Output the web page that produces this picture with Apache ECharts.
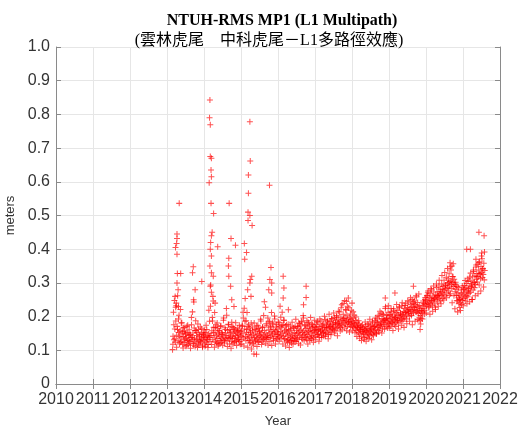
<!DOCTYPE html>
<html>
<head>
<meta charset="utf-8">
<script src="https://cdn.jsdelivr.net/npm/echarts@6/dist/echarts.min.js"></script>
<style>
  html, body { margin: 0; padding: 0; background: #fff; }
  #chart { width: 520px; height: 430px; }
</style>
</head>
<body>
<div id="chart"></div>
<script>
// MP1 RMS samples.
// main set: one value every SAMPLE_STEP years; extra set: one every EXTRA_STEP years
const SAMPLE_STEP = 0.0125;
const EXTRA_STEP = 0.025;

const mp2013 = [ // starts 2013.15
  0.102, 0.142, 0.213, 0.131, 0.248, 0.163, 0.124, 0.187,
  0.232, 0.145, 0.171, 0.262, 0.128, 0.153, 0.204, 0.119,
  0.158, 0.221, 0.139, 0.127, 0.182, 0.149, 0.118, 0.166,
  0.141, 0.123, 0.157, 0.134, 0.148, 0.112, 0.137, 0.171,
  0.129, 0.152, 0.117, 0.143, 0.161, 0.126, 0.121, 0.147,
  0.138, 0.176, 0.132, 0.214, 0.151, 0.115, 0.243, 0.136,
  0.127, 0.159, 0.188, 0.122, 0.144, 0.153, 0.108, 0.131,
  0.162, 0.119, 0.141, 0.128, 0.169, 0.124, 0.149, 0.137,
  0.133, 0.113, 0.152, 0.139
];
const mp2014 = [
  0.128, 0.145, 0.119, 0.153, 0.137, 0.124, 0.162, 0.141,
  0.133, 0.117, 0.149, 0.138, 0.186, 0.126, 0.231, 0.144,
  0.272, 0.158, 0.197, 0.131, 0.246, 0.168, 0.139, 0.212,
  0.152, 0.127, 0.176, 0.143, 0.121, 0.164, 0.135, 0.148,
  0.118, 0.157, 0.142, 0.129, 0.171, 0.136, 0.124, 0.153,
  0.146, 0.131, 0.189, 0.139, 0.122, 0.167, 0.151, 0.134,
  0.143, 0.204, 0.128, 0.159, 0.137, 0.176, 0.145, 0.119,
  0.162, 0.138, 0.154, 0.127, 0.183, 0.141, 0.135, 0.168,
  0.149, 0.123, 0.157, 0.136, 0.144, 0.161, 0.128, 0.152,
  0.139, 0.166, 0.131, 0.147, 0.158, 0.126, 0.143, 0.155
];
const mp2015 = [
  0.142, 0.158, 0.131, 0.174, 0.149, 0.196, 0.137, 0.225,
  0.163, 0.254, 0.141, 0.188, 0.153, 0.212, 0.136, 0.171,
  0.147, 0.129, 0.166, 0.139, 0.152, 0.124, 0.181, 0.143,
  0.133, 0.158, 0.121, 0.146, 0.089, 0.137, 0.162, 0.128,
  0.151, 0.139, 0.172, 0.134, 0.148, 0.125, 0.165, 0.142,
  0.156, 0.131, 0.144, 0.187, 0.138, 0.153, 0.127, 0.169,
  0.146, 0.203, 0.135, 0.159, 0.141, 0.228, 0.149, 0.132,
  0.174, 0.145, 0.196, 0.137, 0.161, 0.152, 0.184, 0.139,
  0.167, 0.143, 0.212, 0.156, 0.148, 0.178, 0.134, 0.162,
  0.151, 0.193, 0.141, 0.158, 0.169, 0.136, 0.154, 0.147
];
const mp2016 = [
  0.163, 0.148, 0.182, 0.139, 0.171, 0.156, 0.198, 0.144,
  0.167, 0.213, 0.152, 0.176, 0.141, 0.189, 0.158, 0.135,
  0.172, 0.149, 0.161, 0.128, 0.154, 0.143, 0.177, 0.132,
  0.146, 0.125, 0.158, 0.138, 0.164, 0.121, 0.149, 0.135,
  0.142, 0.167, 0.129, 0.153, 0.137, 0.171, 0.144, 0.126,
  0.158, 0.149, 0.134, 0.166, 0.152, 0.181, 0.139, 0.157,
  0.146, 0.172, 0.161, 0.137, 0.184, 0.153, 0.143, 0.196,
  0.158, 0.148, 0.176, 0.139, 0.165, 0.152, 0.131, 0.169,
  0.147, 0.183, 0.156, 0.141, 0.172, 0.159, 0.136, 0.163,
  0.151, 0.178, 0.144, 0.167, 0.155, 0.138, 0.171, 0.158
];
const mp2017 = [
  0.152, 0.168, 0.141, 0.177, 0.159, 0.146, 0.183, 0.162,
  0.149, 0.171, 0.138, 0.164, 0.156, 0.187, 0.145, 0.172,
  0.161, 0.153, 0.179, 0.142, 0.168, 0.157, 0.191, 0.149,
  0.166, 0.175, 0.152, 0.184, 0.163, 0.147, 0.178, 0.169,
  0.158, 0.186, 0.171, 0.154, 0.193, 0.166, 0.177, 0.161,
  0.182, 0.169, 0.197, 0.158, 0.176, 0.188, 0.164, 0.203,
  0.179, 0.167, 0.192, 0.181, 0.172, 0.214, 0.186, 0.168,
  0.198, 0.177, 0.235, 0.189, 0.173, 0.207, 0.194, 0.182,
  0.248, 0.196, 0.178, 0.219, 0.187, 0.204, 0.171, 0.193,
  0.183, 0.226, 0.176, 0.198, 0.185, 0.169, 0.192, 0.179
];
const mp2018 = [
  0.187, 0.172, 0.195, 0.168, 0.181, 0.204, 0.176, 0.163,
  0.189, 0.171, 0.158, 0.183, 0.166, 0.174, 0.152, 0.179,
  0.161, 0.148, 0.169, 0.157, 0.173, 0.142, 0.164, 0.155,
  0.168, 0.149, 0.133, 0.162, 0.154, 0.171, 0.146, 0.158,
  0.165, 0.139, 0.152, 0.177, 0.148, 0.161, 0.143, 0.169,
  0.156, 0.174, 0.151, 0.163, 0.182, 0.147, 0.166, 0.158,
  0.171, 0.153, 0.188, 0.162, 0.176, 0.149, 0.193, 0.168,
  0.181, 0.159, 0.174, 0.201, 0.166, 0.185, 0.172, 0.211,
  0.178, 0.194, 0.163, 0.187, 0.206, 0.176, 0.191, 0.182,
  0.224, 0.189, 0.171, 0.203, 0.196, 0.184, 0.213, 0.179
];
const mp2019 = [
  0.193, 0.178, 0.206, 0.187, 0.171, 0.214, 0.196, 0.182,
  0.201, 0.186, 0.223, 0.191, 0.176, 0.208, 0.197, 0.183,
  0.212, 0.194, 0.187, 0.219, 0.203, 0.181, 0.226, 0.198,
  0.189, 0.211, 0.204, 0.193, 0.232, 0.207, 0.186, 0.215,
  0.201, 0.224, 0.196, 0.212, 0.238, 0.205, 0.193, 0.219,
  0.227, 0.209, 0.214, 0.243, 0.201, 0.222, 0.216, 0.235,
  0.208, 0.229, 0.251, 0.218, 0.239, 0.211, 0.226, 0.247,
  0.221, 0.236, 0.214, 0.258, 0.231, 0.219, 0.242, 0.228,
  0.209, 0.196, 0.217, 0.188, 0.203, 0.224, 0.195, 0.211,
  0.232, 0.214, 0.246, 0.223, 0.238, 0.219, 0.251, 0.236
];
const mp2020 = [
  0.248, 0.231, 0.262, 0.239, 0.271, 0.244, 0.226, 0.257,
  0.241, 0.268, 0.235, 0.253, 0.279, 0.246, 0.232, 0.261,
  0.249, 0.273, 0.238, 0.256, 0.228, 0.264, 0.251, 0.286,
  0.259, 0.243, 0.274, 0.262, 0.291, 0.255, 0.268, 0.247,
  0.281, 0.263, 0.297, 0.272, 0.254, 0.289, 0.266, 0.308,
  0.278, 0.261, 0.294, 0.283, 0.317, 0.271, 0.299, 0.286,
  0.312, 0.276, 0.327, 0.291, 0.304, 0.268, 0.338, 0.295,
  0.283, 0.319, 0.301, 0.357, 0.289, 0.311, 0.296, 0.274,
  0.302, 0.281, 0.263, 0.289, 0.247, 0.271, 0.256, 0.238,
  0.262, 0.227, 0.251, 0.241, 0.269, 0.236, 0.258, 0.248
];
const mp2021 = [
  0.266, 0.281, 0.254, 0.292, 0.271, 0.247, 0.286, 0.263,
  0.298, 0.276, 0.259, 0.304, 0.283, 0.269, 0.317, 0.291,
  0.272, 0.306, 0.288, 0.251, 0.297, 0.318, 0.279, 0.334,
  0.301, 0.286, 0.321, 0.295, 0.347, 0.311, 0.328, 0.303,
  0.356, 0.319, 0.338, 0.294, 0.362, 0.327, 0.313, 0.349,
  0.331, 0.372, 0.316, 0.343, 0.325, 0.358, 0.309, 0.337
];

// second, sparser set of daily values filling the spread of the band
const ex2013 = [ // starts 2013.16
  0.118, 0.176, 0.134, 0.228, 0.109, 0.162, 0.193, 0.141,
  0.124, 0.181, 0.156, 0.107, 0.168, 0.131, 0.152, 0.114,
  0.174, 0.128, 0.145, 0.106, 0.197, 0.139, 0.121, 0.166,
  0.111, 0.158, 0.133, 0.178, 0.116, 0.147, 0.127, 0.164,
  0.109, 0.146
];
const ex2014 = [
  0.161, 0.112, 0.174, 0.131, 0.108, 0.219, 0.143, 0.294,
  0.117, 0.187, 0.152, 0.109, 0.168, 0.124, 0.181, 0.113,
  0.159, 0.121, 0.173, 0.148, 0.115, 0.196, 0.128, 0.162,
  0.224, 0.111, 0.177, 0.134, 0.152, 0.106, 0.171, 0.119,
  0.163, 0.126, 0.182, 0.114, 0.157, 0.131, 0.174, 0.118
];
const ex2015 = [
  0.119, 0.171, 0.213, 0.113, 0.186, 0.128, 0.162, 0.109,
  0.176, 0.122, 0.157, 0.104, 0.169, 0.116, 0.181, 0.127,
  0.163, 0.111, 0.174, 0.124, 0.158, 0.192, 0.117, 0.168,
  0.131, 0.244, 0.121, 0.179, 0.138, 0.116, 0.186, 0.126,
  0.171, 0.114, 0.181, 0.129, 0.202, 0.119, 0.176, 0.133
];
const ex2016 = [
  0.184, 0.127, 0.231, 0.136, 0.174, 0.119, 0.189, 0.131,
  0.113, 0.176, 0.124, 0.161, 0.108, 0.172, 0.129, 0.183,
  0.118, 0.166, 0.127, 0.192, 0.133, 0.171, 0.121, 0.179,
  0.116, 0.186, 0.132, 0.203, 0.128, 0.174, 0.137, 0.188,
  0.119, 0.181, 0.129, 0.197, 0.134, 0.176, 0.124, 0.189
];
const ex2017 = [
  0.131, 0.162, 0.186, 0.147, 0.127, 0.193, 0.158, 0.138,
  0.176, 0.151, 0.201, 0.142, 0.168, 0.188, 0.134, 0.207,
  0.172, 0.146, 0.194, 0.163, 0.211, 0.151, 0.182, 0.199,
  0.143, 0.216, 0.178, 0.157, 0.226, 0.161, 0.239, 0.189,
  0.166, 0.221, 0.158, 0.231, 0.184, 0.154, 0.208, 0.219
];
const ex2018 = [
  0.158, 0.214, 0.181, 0.152, 0.199, 0.141, 0.168, 0.188,
  0.136, 0.162, 0.129, 0.176, 0.154, 0.138, 0.184, 0.127,
  0.159, 0.179, 0.135, 0.192, 0.163, 0.131, 0.186, 0.143,
  0.171, 0.196, 0.149, 0.183, 0.204, 0.154, 0.216, 0.176,
  0.151, 0.208, 0.189, 0.163, 0.229, 0.194, 0.166, 0.232
];
const ex2019 = [
  0.166, 0.204, 0.224, 0.181, 0.159, 0.217, 0.198, 0.171,
  0.236, 0.189, 0.163, 0.229, 0.207, 0.174, 0.241, 0.193,
  0.168, 0.233, 0.212, 0.179, 0.247, 0.221, 0.186, 0.256,
  0.203, 0.176, 0.244, 0.228, 0.186, 0.262, 0.213, 0.191,
  0.267, 0.232, 0.178, 0.218, 0.193, 0.241, 0.208, 0.257
];
const ex2020 = [
  0.211, 0.262, 0.276, 0.229, 0.207, 0.283, 0.248, 0.216,
  0.291, 0.254, 0.221, 0.297, 0.263, 0.231, 0.308, 0.274,
  0.238, 0.322, 0.281, 0.249, 0.331, 0.292, 0.256, 0.343,
  0.301, 0.263, 0.348, 0.306, 0.241, 0.318, 0.262, 0.223,
  0.294, 0.247, 0.214, 0.286, 0.251, 0.218, 0.279, 0.291
];
const ex2021 = [
  0.232, 0.281, 0.307, 0.258, 0.238, 0.312, 0.276, 0.244,
  0.329, 0.291, 0.251, 0.338, 0.302, 0.262, 0.353, 0.318,
  0.268, 0.361, 0.327, 0.276, 0.389, 0.341, 0.288, 0.392
];

// isolated high values (year, meters)
const outliers = [
  [2013.27, 0.445], [2013.27, 0.432], [2013.26, 0.417], [2013.23, 0.405], [2013.27, 0.385],
  [2013.33, 0.536], [2013.28, 0.328], [2013.37, 0.328], [2013.27, 0.300], [2013.30, 0.280],
  [2013.22, 0.260], [2013.25, 0.240], [2013.31, 0.230], [2013.71, 0.348], [2013.69, 0.330],
  [2013.94, 0.304], [2013.76, 0.280], [2013.72, 0.250],
  [2014.16, 0.843], [2014.15, 0.790], [2014.17, 0.769], [2014.17, 0.675], [2014.20, 0.670],
  [2014.19, 0.635], [2014.20, 0.615], [2014.14, 0.597], [2014.19, 0.536], [2014.26, 0.506],
  [2014.22, 0.450], [2014.20, 0.440], [2014.18, 0.420], [2014.17, 0.400], [2014.20, 0.380],
  [2014.37, 0.407], [2014.16, 0.350], [2014.20, 0.330], [2014.25, 0.320], [2014.17, 0.290],
  [2014.24, 0.260], [2014.30, 0.240],
  [2014.68, 0.536], [2014.73, 0.432], [2014.85, 0.412], [2014.67, 0.373], [2014.66, 0.350],
  [2014.67, 0.320], [2014.72, 0.290], [2014.75, 0.250], [2014.81, 0.230],
  [2015.24, 0.778], [2015.25, 0.662], [2015.20, 0.620], [2015.20, 0.566], [2015.19, 0.510],
  [2015.24, 0.500], [2015.19, 0.485], [2015.30, 0.470], [2015.09, 0.417], [2015.15, 0.390],
  [2015.10, 0.370], [2015.25, 0.310], [2015.24, 0.300], [2015.29, 0.320], [2015.18, 0.280],
  [2015.27, 0.260], [2015.42, 0.088],
  [2015.77, 0.590], [2015.81, 0.346], [2015.78, 0.310], [2015.83, 0.300], [2015.75, 0.280],
  [2015.83, 0.270], [2016.14, 0.320], [2016.16, 0.285], [2016.14, 0.255], [2016.76, 0.290],
  [2016.76, 0.257], [2016.69, 0.235], [2016.28, 0.220],
  [2017.85, 0.245], [2017.90, 0.255], [2018.00, 0.240], [2018.90, 0.255], [2019.16, 0.270],
  [2019.66, 0.290], [2019.84, 0.162], [2020.65, 0.360], [2020.70, 0.350], [2021.10, 0.400],
  [2021.20, 0.400], [2021.43, 0.450], [2021.57, 0.440], [2021.50, 0.380], [2021.35, 0.370]
];

const mainSegments = [
  [2013.15, mp2013], [2014, mp2014], [2015, mp2015], [2016, mp2016], [2017, mp2017],
  [2018, mp2018], [2019, mp2019], [2020, mp2020], [2021, mp2021]
];
const extraSegments = [
  [2013.16, ex2013], [2014.006, ex2014], [2015.006, ex2015], [2016.006, ex2016],
  [2017.006, ex2017], [2018.006, ex2018], [2019.006, ex2019], [2020.006, ex2020],
  [2021.006, ex2021]
];

const points = [];
mainSegments.forEach(([start, vals]) => {
  vals.forEach((v, i) => points.push([start + i * SAMPLE_STEP, v]));
});
extraSegments.forEach(([start, vals]) => {
  vals.forEach((v, i) => points.push([start + i * EXTRA_STEP, v]));
});
outliers.forEach(p => points.push(p));

// thin "+" marker
const plus = 'path://M0,0.83H2V1.17H0Z M0.83,0H1.17V2H0.83Z';

const sans = 'Liberation Sans, Arial, sans-serif';
const serif = 'Liberation Serif, Times New Roman, Noto Sans CJK TC, serif';
const axisGray = '#8a8a8a';

const chart = echarts.init(document.getElementById('chart'));
chart.setOption({
  animation: false,
  title: [
    {
      text: 'NTUH-RMS MP1 (L1 Multipath)',
      left: 277, top: 8, textAlign: 'center',
      textStyle: { fontFamily: serif, fontWeight: 'bold', fontSize: 16, color: '#000' }
    },
    {
      text: '(雲林虎尾　中科虎尾－L1多路徑效應)',
      left: 264, top: 28, textAlign: 'center',
      textStyle: { fontFamily: serif, fontWeight: 'normal', fontSize: 16, color: '#000' }
    }
  ],
  grid: { left: 56, right: 20, top: 47, bottom: 46, containLabel: false, outerBoundsMode: 'none' },
  xAxis: [
    {
      type: 'value', min: 2010, max: 2022, interval: 1,
      name: 'Year', nameLocation: 'middle', nameGap: 31,
      nameTextStyle: { fontFamily: sans, fontSize: 13, color: '#333' },
      axisLine: { lineStyle: { color: axisGray } },
      axisTick: { inside: true, length: 5, lineStyle: { color: axisGray } },
      axisLabel: { margin: 8, fontFamily: sans, fontSize: 16, color: '#333', formatter: v => String(v) },
      splitLine: { show: true, lineStyle: { color: '#e6e6e6' } }
    },
    {
      type: 'value', position: 'top', min: 2010, max: 2022, interval: 1,
      axisLine: { lineStyle: { color: axisGray } },
      axisTick: { inside: true, length: 5, lineStyle: { color: axisGray } },
      axisLabel: { show: false },
      splitLine: { show: false }
    }
  ],
  yAxis: [
    {
      type: 'value', min: 0, max: 1, interval: 0.1,
      name: 'meters', nameLocation: 'middle', nameGap: 35, nameRotate: 90,
      nameTextStyle: { fontFamily: sans, fontSize: 13, color: '#333' },
      axisLine: { show: true, lineStyle: { color: axisGray } },
      axisTick: { show: true, inside: true, length: 5, lineStyle: { color: axisGray } },
      axisLabel: {
        margin: 6, fontFamily: sans, fontSize: 16, color: '#333',
        formatter: v => (v === 0 ? '0' : v.toFixed(1))
      },
      splitLine: { show: true, lineStyle: { color: '#e6e6e6' } }
    },
    {
      type: 'value', position: 'right', min: 0, max: 1, interval: 0.1,
      axisLine: { show: true, lineStyle: { color: axisGray } },
      axisTick: { show: true, inside: true, length: 5, lineStyle: { color: axisGray } },
      axisLabel: { show: false },
      splitLine: { show: false }
    }
  ],
  series: [
    {
      name: 'MP1',
      type: 'scatter',
      symbol: plus,
      symbolSize: 6,
      itemStyle: { color: 'rgba(255,0,0,0.85)' },
      data: points
    }
  ]
});
</script>
</body>
</html>
